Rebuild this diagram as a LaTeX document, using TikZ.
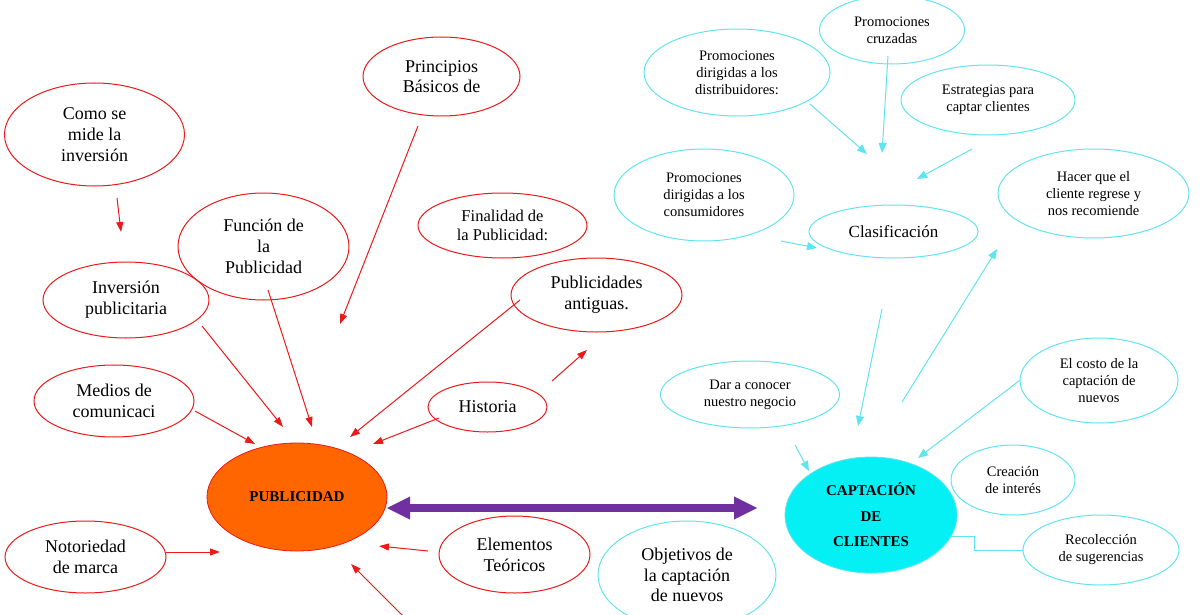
\documentclass[tikz,border=0pt]{standalone}
\usepackage{fontspec}
\setmainfont{Liberation Serif}
\usetikzlibrary{arrows.meta, shapes.geometric}

\definecolor{pubred}{RGB}{235,25,25}
\definecolor{puborange}{RGB}{255,102,0}
\definecolor{capline}{RGB}{95,228,240}
\definecolor{capfill}{RGB}{5,240,245}
\definecolor{linkpurple}{RGB}{112,48,160}

\tikzset{
  bubble/.style={ellipse, inner sep=0pt, align=center, line width=1pt},
  redbub/.style={bubble, draw=pubred},
  cyanbub/.style={bubble, draw=capline},
  bigtxt/.style={font=\fontsize{18}{20.7}\selectfont},
  midtxt/.style={font=\fontsize{16.5}{19.3}\selectfont},
  smalltxt/.style={font=\fontsize{14.5}{17}\selectfont},
  redarr/.style={draw=pubred, line width=1pt, -{Triangle[length=10pt,width=7pt]}},
  cyanarr/.style={draw=capline, line width=1pt, -{Triangle[length=10pt,width=8pt]}},
}

\begin{document}
\begin{tikzpicture}[x=1pt, y=-1pt]
  \useasboundingbox (0,0) rectangle (1204,615);

  % Publicidad side
  \node[redbub, bigtxt, minimum width=180pt, minimum height=103pt] (como) at (94.5,134.5) {Como se\\mide la\\inversión};
  \node[redbub, bigtxt, minimum width=157pt, minimum height=79pt] (princ) at (441.5,76.5) {Principios\\Básicos de};
  \node[redbub, bigtxt, minimum width=171pt, minimum height=107pt] (func) at (263.5,246.5) {Función de\\la\\Publicidad};
  \node[redbub, midtxt, minimum width=169pt, minimum height=65pt] (fin) at (502.5,225.5) {Finalidad de\\la Publicidad:};
  \node[redbub, bigtxt, minimum width=166pt, minimum height=76pt] (inv) at (126,300) {Inversión\\publicitaria};
  \node[redbub, bigtxt, minimum width=171pt, minimum height=74pt] (antig) at (596.5,295) {Publicidades\\antiguas.};
  \node[redbub, bigtxt, minimum width=160pt, minimum height=72pt] (medios) at (114,401) {Medios de\\comunicaci};
  \node[redbub, bigtxt, minimum width=119pt, minimum height=50pt] (hist) at (487.5,407) {Historia};
  \node[redbub, bigtxt, minimum width=161pt, minimum height=72pt] (notor) at (85.5,557) {Notoriedad\\de marca};
  \node[redbub, bigtxt, minimum width=151pt, minimum height=77pt] (elem) at (514.5,554.5) {Elementos\\Teóricos};

  % Main node
  \node[ellipse, draw=pubred, fill=puborange, line width=0.8pt, minimum width=180pt, minimum height=108pt,
        font=\bfseries\fontsize{15}{18}\selectfont] (pub) at (297,497) {PUBLICIDAD};

  % Red arrows
  \coordinate (comoA) at (117,198);  \coordinate (comoB) at (121,232);
  \coordinate (princA) at (418,126); \coordinate (princB) at (340,324);
  \coordinate (funcA) at (268,290);  \coordinate (funcB) at (312,427);
  \coordinate (invA) at (202,326);   \coordinate (invB) at (283,427);
  \coordinate (medA) at (195,411);   \coordinate (medB) at (255,444);
  \coordinate (antA) at (520,300);   \coordinate (antB) at (350,437);
  \coordinate (histA) at (439,418);  \coordinate (histB) at (373,444);
  \coordinate (histC) at (552,381);  \coordinate (histD) at (587,350);
  \coordinate (notA) at (166,552);   \coordinate (notB) at (220,552);
  \coordinate (elemA) at (428,551);  \coordinate (elemB) at (379,546);
  \coordinate (lowA) at (404,617);   \coordinate (lowB) at (351,564);
  \foreach \s/\e in {comoA/comoB, princA/princB, funcA/funcB, invA/invB, medA/medB,
                     antA/antB, histA/histB, histC/histD, notA/notB, elemA/elemB, lowA/lowB}
    \draw[redarr] (\s) -- (\e);

  % Link between both sides
  \coordinate (lnkL) at (387,508);
  \coordinate (lnkR) at (757,508);
  \draw[linkpurple, line width=8pt,
        {Triangle[length=23pt,width=23pt,line width=0pt]}-{Triangle[length=23pt,width=23pt,line width=0pt]}] (lnkL) -- (lnkR);

  % Captacion side
  \node[ellipse, draw=capline, fill=capfill, line width=0.8pt, minimum width=172pt, minimum height=116pt,
        font=\bfseries\fontsize{15}{25.5}\selectfont, align=center] (cap) at (871,515) {CAPTACIÓN\\DE\\CLIENTES};

  \node[cyanbub, smalltxt, minimum width=145pt, minimum height=68pt] (cruz) at (892,30) {Promociones\\cruzadas};
  \node[cyanbub, smalltxt, minimum width=186pt, minimum height=87pt] (distr) at (737,72.5) {Promociones\\dirigidas a los\\distribuidores:};
  \node[cyanbub, smalltxt, minimum width=174pt, minimum height=70pt] (estr) at (988,100) {Estrategias para\\captar clientes};
  \node[cyanbub, smalltxt, minimum width=180pt, minimum height=92pt] (cons) at (704,195) {Promociones\\dirigidas a los\\consumidores};
  \node[cyanbub, font=\fontsize{17}{20}\selectfont, minimum width=169pt, minimum height=53pt] (clas) at (893.5,231.5) {Clasificación};
  \node[cyanbub, smalltxt, minimum width=191pt, minimum height=89pt] (hacer) at (1093.5,193.5) {Hacer que el\\cliente regrese y\\nos recomiende};
  \node[cyanbub, smalltxt, minimum width=179pt, minimum height=67pt] (dar) at (750,394.5) {Dar a conocer\\nuestro negocio};
  \node[cyanbub, smalltxt, minimum width=158pt, minimum height=85pt] (costo) at (1099,380.5) {El costo de la\\captación de\\nuevos};
  \node[cyanbub, smalltxt, minimum width=124pt, minimum height=70pt] (crea) at (1013,480) {Creación\\de interés};
  \node[cyanbub, smalltxt, minimum width=156pt, minimum height=70pt] (recol) at (1101,550) {Recolección\\de sugerencias};
  \node[cyanbub, bigtxt, minimum width=178pt, minimum height=108pt] (obj) at (687,575) {Objetivos de\\la captación\\de nuevos};

  % Cyan arrows
  \coordinate (distA) at (810,104);  \coordinate (distB) at (867,154);
  \coordinate (cruzA) at (888,56);   \coordinate (cruzB) at (882,153);
  \coordinate (estrA) at (972,149);  \coordinate (estrB) at (917,179);
  \coordinate (consA) at (781,241);  \coordinate (consB) at (817,248);
  \coordinate (downA) at (882,309);  \coordinate (downB) at (858,426);
  \coordinate (upA) at (902,402);    \coordinate (upB) at (997,249);
  \coordinate (darA) at (795,445);   \coordinate (darB) at (809,471);
  \coordinate (costB) at (918,458);
  \foreach \s/\e in {distA/distB, cruzA/cruzB, estrA/estrB, consA/consB,
                     downA/downB, upA/upB, darA/darB, costo.west/costB}
    \draw[cyanarr] (\s) -- (\e);
  \draw[capline, line width=1pt] (cap.-15) -- ++(23,0) |- (recol.west);
\end{tikzpicture}
\end{document}
